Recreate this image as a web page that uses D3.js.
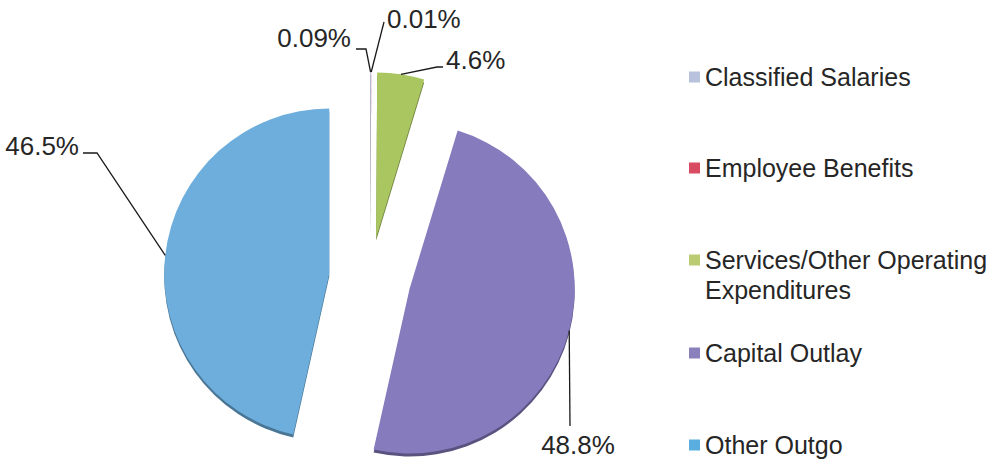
<!DOCTYPE html>
<html>
<head>
<meta charset="utf-8">
<script src="https://cdn.jsdelivr.net/npm/d3@7"></script>
<style>
  html, body { margin: 0; padding: 0; background: #ffffff; }
  svg { display: block; }
  text { font-family: "Liberation Sans", Arial, sans-serif; fill: #262626; }
</style>
</head>
<body>
<svg id="chart" width="991" height="460"></svg>
<script>
// Expenditure categories, in slice order (clockwise from 12 o'clock)
const categories = [
  "Classified Salaries",
  "Employee Benefits",
  "Services/Other Operating Expenditures",
  "Capital Outlay",
  "Other Outgo"
];
// Share of total expenditures, percent
const shares = [0.09, 0.01, 4.6, 48.8, 46.5];
// Slice colours
const sliceColors = ["#b8c2dc", "#d94b63", "#aac660", "#857bbd", "#6eaedc"];
// Legend swatch colours
const swatchColors = ["#b8c2dc", "#d94b63", "#b9cc72", "#8a80bb", "#5aaedf"];

// Where each data label sits and how its leader line bends
const labelLayout = [
  { bends: [[366, 49], [356, 49]], at: [351, 47], anchor: "end" },
  { bends: [[384, 22]], at: [387, 28], anchor: "start" },
  { bends: [[437, 67], [443, 67]], at: [446, 69], anchor: "start" },
  { bends: [[570, 426]], at: [578, 454], anchor: "middle" },
  { bends: [[97, 153], [83, 153]], at: [79, 155], anchor: "end" }
];

const svg = d3.select("#chart");
const cx = 370, cy = 278, R = 165, explode = 41, depth = 3;
const labelFont = 26, legendFont = 25;

const pie = d3.pie().sort(null).value(d => d).startAngle(0).endAngle(2 * Math.PI);
const arc = d3.arc().innerRadius(0).outerRadius(R);
const arcs = pie(shares);

arcs.forEach((a, i) => {
  a.mid = (a.startAngle + a.endAngle) / 2;
  a.ox = cx + explode * Math.sin(a.mid);
  a.oy = cy - explode * Math.cos(a.mid);
  a.color = sliceColors[i];
});

// Thin darker rim under each slice for a shallow 3-D edge
const pieG = svg.append("g");
pieG.selectAll("path.rim")
  .data(arcs)
  .join("path")
  .attr("class", "rim")
  .attr("transform", d => `translate(${d.ox},${d.oy + depth})`)
  .attr("d", arc)
  .attr("fill", d => d3.color(d.color).darker(1.1));

pieG.selectAll("path.slice")
  .data(arcs)
  .join("path")
  .attr("class", "slice")
  .attr("transform", d => `translate(${d.ox},${d.oy})`)
  .attr("d", arc)
  .attr("fill", d => d.color);

// Leader lines from the rim at each slice's mid-angle to its label
const line = d3.line();
const labelG = svg.append("g");
arcs.forEach((a, i) => {
  const L = labelLayout[i];
  const anchorPt = [a.ox + R * Math.sin(a.mid), a.oy - R * Math.cos(a.mid)];
  labelG.append("path")
    .attr("d", line([anchorPt, ...L.bends]))
    .attr("fill", "none")
    .attr("stroke", "#1a1a1a")
    .attr("stroke-width", 1.3);
  labelG.append("text")
    .attr("x", L.at[0])
    .attr("y", L.at[1])
    .attr("text-anchor", L.anchor)
    .attr("font-size", labelFont)
    .text(shares[i] + "%");
});

// Legend
const legendRowsY = [77, 168, 260, 353, 445];
const legendG = svg.append("g");
const textX = 705, swatch = 11;
categories.forEach((c, i) => {
  const y = legendRowsY[i];
  legendG.append("rect")
    .attr("x", textX - swatch - 5)
    .attr("y", y - swatch / 2)
    .attr("width", swatch)
    .attr("height", swatch)
    .attr("fill", swatchColors[i]);
  const t = legendG.append("text")
    .attr("x", textX)
    .attr("y", y)
    .attr("dy", "0.36em")
    .attr("font-size", legendFont);
  // greedy word wrap to the legend column width
  const words = c.split(" ");
  const maxW = 284;
  let lineWords = [];
  let tspan = t.append("tspan").attr("x", textX);
  words.forEach(w => {
    lineWords.push(w);
    tspan.text(lineWords.join(" "));
    if (tspan.node().getComputedTextLength() > maxW && lineWords.length > 1) {
      lineWords.pop();
      tspan.text(lineWords.join(" "));
      lineWords = [w];
      tspan = t.append("tspan").attr("x", textX).attr("dy", "1.2em").text(w);
    }
  });
});
</script>
</body>
</html>
